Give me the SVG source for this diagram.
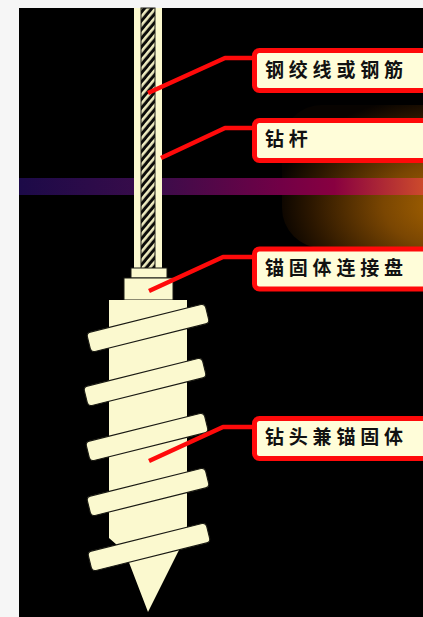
<svg xmlns="http://www.w3.org/2000/svg" width="423" height="617" viewBox="0 0 423 617">
  <defs>
    <style>
      .cream { fill: #fbf9cf; }
      .fin { fill: #fbf9cf; stroke: #1a1a14; stroke-width: 1.2; }
      .part { fill: #fbf9cf; stroke: #1a1a14; stroke-width: 1; }
      .box { fill: #fffdd9; stroke: #ff0a0a; stroke-width: 5; }
      .lead { fill: none; stroke: #ff0a0a; stroke-width: 4.5; stroke-linejoin: round; stroke-linecap: butt; }
      .label { font-family: "Noto Sans CJK SC", "Noto Sans", sans-serif; font-weight: 700; font-size: 19px; letter-spacing: 4.8px; fill: #111; }
    </style>
    <!-- diagonal strand hatching for the steel tendon -->
    <pattern id="hatch" patternUnits="userSpaceOnUse" width="5.6" height="5.6" patternTransform="rotate(40)">
      <rect width="5.6" height="5.6" fill="#0c0c0a"/>
      <rect width="2.6" height="5.6" fill="#eeebc0"/>
    </pattern>
    <!-- ground-surface band -->
    <linearGradient id="band" x1="19" y1="0" x2="423" y2="0" gradientUnits="userSpaceOnUse">
      <stop offset="0" stop-color="#1c0a48"/>
      <stop offset="0.35" stop-color="#3c0c4a"/>
      <stop offset="0.65" stop-color="#720046"/>
      <stop offset="0.78" stop-color="#880040"/>
      <stop offset="1" stop-color="#cc4a2c"/>
    </linearGradient>
    <!-- warm glow at the right edge -->
    <radialGradient id="glow" cx="455" cy="205" r="180" gradientUnits="userSpaceOnUse" gradientTransform="translate(0 205) scale(1 0.62) translate(0 -205)">
      <stop offset="0" stop-color="#ad6800"/>
      <stop offset="0.4" stop-color="#7a4602"/>
      <stop offset="0.8" stop-color="#2c1700"/>
      <stop offset="1" stop-color="#070300"/>
    </radialGradient>
  </defs>

  <!-- page and backdrop -->
  <rect width="423" height="617" fill="#f6f6f6"/>
  <rect x="19" y="8" width="404" height="609" fill="#000"/>
  <rect x="282" y="105" width="180" height="143" rx="40" fill="url(#glow)"/>
  <rect x="19" y="178" width="404" height="17" fill="url(#band)"/>

  <!-- steel strand / drill rod -->
  <g id="rod">
    <rect class="cream" x="134" y="8" width="28" height="262"/>
    <rect x="141" y="8" width="14" height="261" fill="url(#hatch)" stroke="#1a1a14" stroke-width="1"/>
  </g>

  <!-- anchor connection plate -->
  <g id="plate">
    <rect class="part" x="131" y="268" width="36" height="10"/>
    <rect class="part" x="124" y="278" width="49" height="22"/>
  </g>

  <!-- drill head / anchor body with helical blades -->
  <g id="drill-head">
    <path class="cream" d="M109,300 H187 V536 L178,552 L148,612 L125,552 L109,538 Z"/>
    <g transform="translate(148 328) rotate(-14)"><rect class="fin" x="-61" y="-10" width="122" height="20" rx="4"/></g>
    <g transform="translate(145 382) rotate(-14)"><rect class="fin" x="-61" y="-10" width="122" height="20" rx="4"/></g>
    <g transform="translate(147 437) rotate(-14)"><rect class="fin" x="-61" y="-10" width="122" height="20" rx="4"/></g>
    <g transform="translate(148 492) rotate(-14)"><rect class="fin" x="-61" y="-10" width="122" height="20" rx="4"/></g>
    <g transform="translate(149 547) rotate(-14)"><rect class="fin" x="-61" y="-10" width="122" height="20" rx="4"/></g>
  </g>

  <!-- leader lines -->
  <g id="connectors">
    <polyline class="lead" points="148,93 225,58 255,58"/>
    <polyline class="lead" points="161,158 225,128 255,128"/>
    <polyline class="lead" points="149,291 223,257 255,257"/>
    <polyline class="lead" points="149,461 223,427 255,427"/>
  </g>

  <!-- callout labels -->
  <g id="label-strand">
    <rect class="box" x="254.5" y="50.5" width="190" height="40" rx="5"/>
    <text class="label" x="265" y="77">钢绞线或钢筋</text>
  </g>
  <g id="label-rod">
    <rect class="box" x="254.5" y="120.5" width="190" height="40" rx="5"/>
    <text class="label" x="265" y="145.5">钻杆</text>
  </g>
  <g id="label-plate">
    <rect class="box" x="254.5" y="249" width="190" height="40" rx="5"/>
    <text class="label" x="265" y="274.5">锚固体连接盘</text>
  </g>
  <g id="label-head">
    <rect class="box" x="254.5" y="418.5" width="190" height="40" rx="5"/>
    <text class="label" x="265" y="444">钻头兼锚固体</text>
  </g>
</svg>
